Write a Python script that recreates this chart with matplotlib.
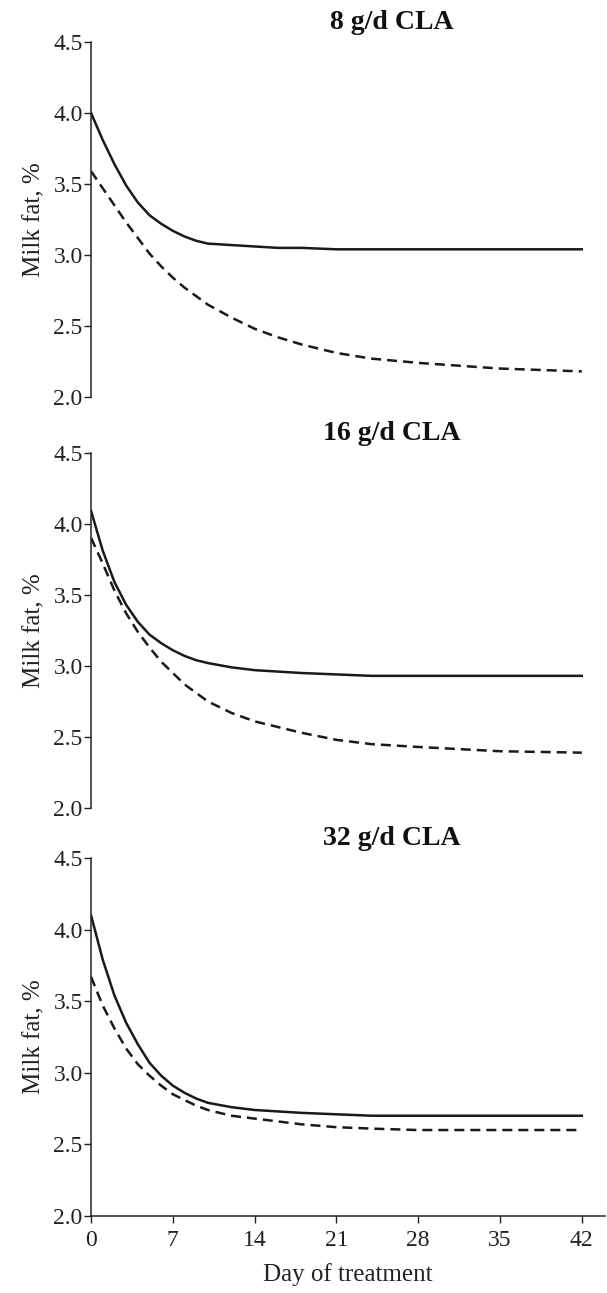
import matplotlib
matplotlib.use("Agg")
import matplotlib.pyplot as plt

# Milk fat response curves, three CLA doses

plt.rcParams['font.family'] = ['Liberation Serif', 'DejaVu Serif']

day_ticks = [0, 7, 14, 21, 28, 35, 42]
fat_ticks = [2.0, 2.5, 3.0, 3.5, 4.0, 4.5]
titles = ["8 g/d CLA", "16 g/d CLA", "32 g/d CLA"]

days = [0, 1, 2, 3, 4, 5, 6, 7, 8, 9, 10, 12, 14, 16, 18, 21, 24, 28, 35, 42]

solid_8 = [4.00, 3.81, 3.64, 3.49, 3.37, 3.28, 3.22, 3.17, 3.13, 3.10, 3.08, 3.07, 3.06, 3.05, 3.05, 3.04, 3.04, 3.04, 3.04, 3.04]
dash_8 = [3.59, 3.47, 3.35, 3.23, 3.12, 3.01, 2.92, 2.84, 2.77, 2.71, 2.65, 2.56, 2.48, 2.42, 2.37, 2.31, 2.27, 2.24, 2.20, 2.18]

solid_16 = [4.09, 3.81, 3.59, 3.43, 3.31, 3.22, 3.16, 3.11, 3.07, 3.04, 3.02, 2.99, 2.97, 2.96, 2.95, 2.94, 2.93, 2.93, 2.93, 2.93]
dash_16 = [3.90, 3.72, 3.53, 3.37, 3.24, 3.13, 3.03, 2.95, 2.87, 2.81, 2.75, 2.67, 2.61, 2.57, 2.53, 2.48, 2.45, 2.43, 2.40, 2.39]

solid_32 = [4.10, 3.79, 3.54, 3.35, 3.20, 3.07, 2.98, 2.91, 2.86, 2.82, 2.79, 2.76, 2.74, 2.73, 2.72, 2.71, 2.70, 2.70, 2.70, 2.70]
dash_32 = [3.67, 3.47, 3.31, 3.17, 3.06, 2.98, 2.91, 2.85, 2.81, 2.77, 2.74, 2.70, 2.68, 2.66, 2.64, 2.62, 2.61, 2.60, 2.60, 2.60]

solids = [solid_8, solid_16, solid_32]
dashes = [dash_8, dash_16, dash_32]

fig = plt.figure(figsize=(6.07, 12.93), dpi=100)

# [left, bottom, width, height] in figure fractions
boxes = [[0.150, 0.693, 0.847, 0.2745],
         [0.150, 0.375, 0.847, 0.2750],
         [0.150, 0.0596, 0.847, 0.2768]]

for i in range(3):
    ax = fig.add_axes(boxes[i])
    ax.plot(days, solids[i], color='#1a1a1a', lw=1.8, ls='-', solid_joinstyle='round')
    ax.plot(days, dashes[i], color='#1a1a1a', lw=1.8, ls=(0, (4.0, 2.4)))
    ax.set_xlim(0, 44)
    ax.set_ylim(2.0, 4.5)
    ax.set_yticks(fat_ticks)
    ax.set_yticklabels(["%.1f" % v for v in fat_ticks])
    for s in ['top', 'right']:
        ax.spines[s].set_visible(False)
    ax.spines['left'].set_linewidth(1.1)
    ax.spines['left'].set_color('#222222')
    ax.tick_params(axis='y', direction='out', length=5, width=1.0, labelsize=17,
                   pad=1, colors='#222222')
    ax.set_ylabel("Milk fat, %", fontsize=18, color='#222222', labelpad=6)
    ax.text(25.7, 4.59, titles[i], ha='center', va='baseline', fontsize=20,
            fontweight='bold', color='#111111', clip_on=False)
    if i < 2:
        ax.spines['bottom'].set_visible(False)
        ax.set_xticks([])
    else:
        ax.spines['bottom'].set_linewidth(1.1)
        ax.spines['bottom'].set_color('#222222')
        ax.set_xticks(day_ticks)
        ax.tick_params(axis='x', direction='out', length=5, width=1.0, labelsize=17,
                       pad=5, colors='#222222')
        ax.set_xlabel("Day of treatment", fontsize=18, color='#222222', labelpad=9)

fig.savefig("out.png", dpi=100)
